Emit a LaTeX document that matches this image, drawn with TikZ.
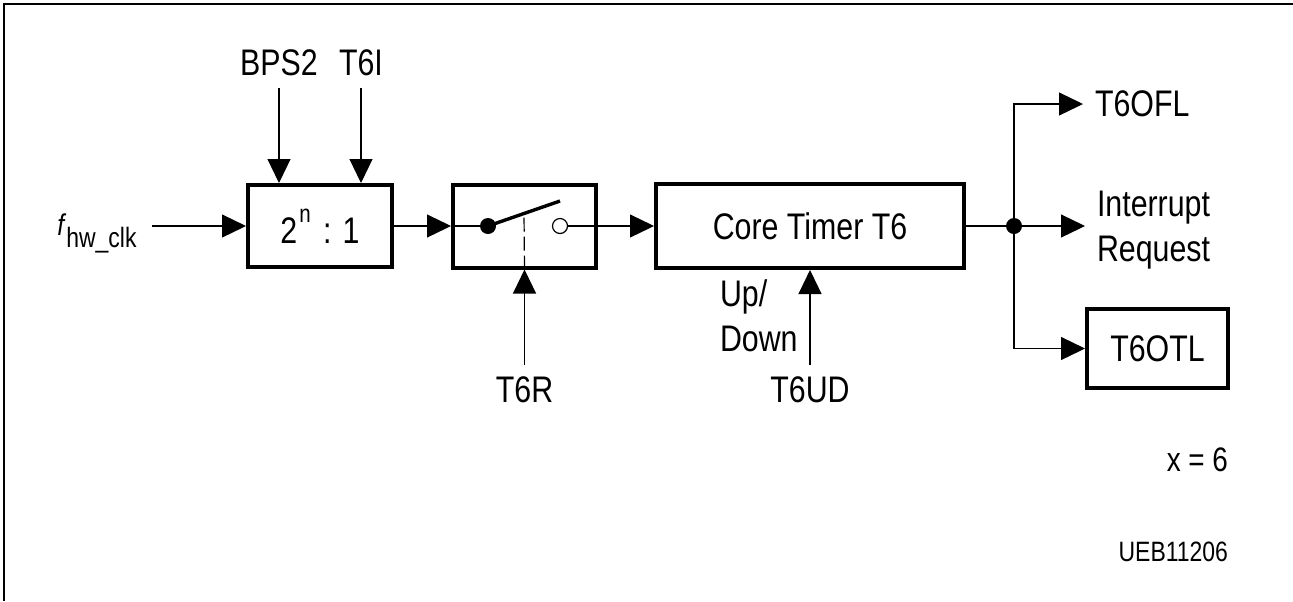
\documentclass[tikz,border=0pt]{standalone}
\usepackage{fontspec}
\setmainfont[FakeStretch=0.82]{Liberation Sans}
\usetikzlibrary{arrows.meta,calc}

\begin{document}
\begin{tikzpicture}[x=0.5pt, y=-0.5pt,
    font=\fontsize{18.5}{22.5}\selectfont,
    blk/.style={draw, rectangle, line width=2pt, inner sep=0pt},
    lbl/.style={inner sep=0pt, outer sep=6pt},
    sig/.style={line width=0.6pt, -{Triangle[length=12pt,width=11.5pt]}},
    wire/.style={line width=0.6pt},
    dotn/.style={circle, fill, inner sep=0pt, minimum size=8pt},
    ringn/.style={circle, draw, line width=0.6pt, fill=white, inner sep=0pt, minimum size=7.5pt}]
        \useasboundingbox (0,0) rectangle (1293,601);
        \draw[line width=0.7pt] (4,601) -- (4,4) -- (1293,4);

        % blocks along the main path
        \node[blk, minimum width=72pt, minimum height=41pt] (div) at (320,226) {2\kern1pt\raisebox{10.5pt}{\fontsize{12.5}{12.5}\selectfont n}\kern2pt{} : 1};
        \node[blk, minimum width=71.5pt, minimum height=41.5pt] (sw) at (524.5,226) {};
        \node[blk, minimum width=154pt, minimum height=42pt] (core) at (810,226) {Core Timer T6};
        \node[blk, minimum width=70.5pt, minimum height=39.5pt] (otl) at (1157.5,348.5) {T6OTL};

        % switch inside the run control block
        \node[dotn] (pivot) at (488,226) {};
        \node[ringn] (ring) at (560,226) {};
        \coordinate (tip) at (560,201);
        \draw[wire] (sw.west) -- (pivot);
        \draw[line width=1.7pt] (pivot.center) -- (tip);
        \draw[wire, dash pattern=on 7pt off 2.5pt] (sw.south) -- ($(pivot)!0.5!(tip)$);

        % input clock
        \node[anchor=base west, inner sep=0pt] (fclk) at (57,235) {\fontsize{15}{15}\selectfont\textit{f}\raisebox{-6pt}{\fontsize{14}{14}\selectfont hw\_clk}};
        \coordinate (fin) at (152,226);

        % control inputs
        \node[lbl, anchor=south] (bps) at (279,88) {BPS2};
        \node[lbl, anchor=south] (tsi) at (361,88) {T6I};
        \node[lbl, anchor=north] (tsr) at (524.5,365) {T6R};
        \node[lbl, anchor=north] (tud) at (810,365) {T6UD};
        \node[lbl, anchor=north west, align=left] (updn) at (708,268) {Up/\\Down};

        % outputs
        \node[dotn] (jct) at (1014,226) {};
        \node[lbl, anchor=west] (ofl) at (1083,104) {T6OFL};
        \node[lbl, anchor=west, align=left] (irq) at (1085,230) {Interrupt\\Request};

        \node[lbl, anchor=east, font=\fontsize{17}{17}\selectfont] (xeq) at (1240,460) {x = 6};
        \node[lbl, anchor=east, font=\fontsize{14}{14}\selectfont] (fig) at (1240,552) {UEB11206};

        \draw[sig] (fin) -- (div.west);
        \draw[sig] (div.east) -- (sw.west);
        \draw[sig] (ring.east) -- (core.west);
        \draw[wire] (core.east) -- (jct);
        \draw[sig] (bps.south) -- (bps.south |- div.north);
        \draw[sig] (tsi.south) -- (tsi.south |- div.north);
        \draw[sig] (tsr.north) -- (sw.south);
        \draw[sig] (tud.north) -- (core.south);
        \draw[sig] (jct) |- (ofl.west);
        \draw[sig] (jct) -- (irq.west |- jct);
        \draw[sig] (jct) |- (otl.west);
    \end{tikzpicture}
\end{document}
